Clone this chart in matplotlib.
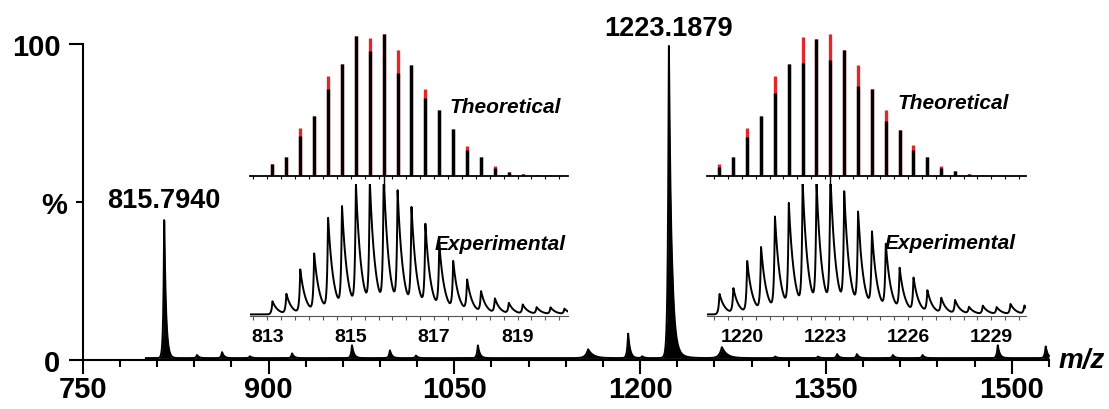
import numpy as np
import matplotlib.pyplot as plt

plt.rcParams['font.family'] = ['Liberation Sans', 'DejaVu Sans']
plt.rcParams['font.weight'] = 'bold'

W, H = 1109, 410

# ---- main spectrum: peak list (m/z, relative intensity %, left / right width in m/z)
main_mz = [815.79, 842.3, 862.5, 885.0, 919.0, 967.4, 998.0, 1019.0, 1069.0, 1158.0,
           1190.3, 1201.6, 1223.19, 1226.0, 1266.0, 1309.0, 1343.6, 1359.0, 1375.0,
           1404.0, 1428.0, 1488.7, 1527.4]
main_int = [45.3, 1.0, 1.9, 0.6, 1.5, 4.1, 2.5, 0.8, 4.1, 2.8,
            7.9, 0.6, 100.0, 4.0, 3.5, 0.5, 0.5, 1.3, 1.3,
            1.0, 1.0, 4.1, 3.8]
main_wl = [0.7, 0.8, 0.8, 0.8, 0.8, 0.8, 0.8, 0.8, 0.8, 2.0,
           0.8, 0.8, 0.8, 2.0, 2.0, 0.8, 0.8, 0.8, 0.8,
           0.8, 0.8, 0.8, 0.8]
main_wr = [1.4, 1.6, 1.6, 1.6, 1.6, 1.6, 1.6, 1.6, 1.6, 4.0,
           1.6, 1.6, 2.0, 5.0, 4.0, 1.6, 1.6, 1.6, 1.6,
           1.6, 1.6, 1.6, 1.6]
main_labels = ['815.7940', '1223.1879']
label_mz = [815.79, 1223.19]
label_y = [48.4, 102.8]

# ---- isotope pattern [M+3H]3+ (spacing 1/3) and [M+2H]2+ (spacing 1/2)
left_apex, left_step = 815.79, 1 / 3
right_apex, right_step = 1223.19, 0.5
apex_index = 8

left_theo_red = [8.5, 13.7, 33.8, 42.6, 70.4, 79.2, 98.3, 96.9, 100, 88.7, 78.0,
                 61.5, 46.3, 33.1, 21.3, 13.2, 7.3, 3.1, 1.4, 0.5, 0.5, 0.2]
left_theo_black = [8.5, 13.7, 27.9, 42.6, 61.0, 79.2, 98.3, 88.2, 100, 72.8, 78.0,
                   55.1, 46.3, 33.1, 18.4, 13.2, 5.4, 3.1, 1.4, 0.5, 0.5, 0.2]
left_exp = [10, 15, 33, 44, 71, 78, 94, 95, 100, 87, 75,
            63, 49, 37, 24, 16, 11, 8, 7, 5, 5, 4]

right_theo_red = [8.5, 13.2, 33.8, 42.6, 70.4, 78.7, 97.6, 96.5, 100, 88.7, 78.0,
                  61.5, 46.8, 32.6, 22.0, 13.2, 7.3, 3.5, 1.4, 0.5, 0.2, 0.2]
right_theo_black = [6.6, 13.2, 27.4, 42.6, 58.6, 78.7, 79.9, 96.5, 81.8, 88.7, 63.4,
                    61.5, 38.5, 32.6, 18.4, 13.2, 5.4, 3.5, 1.4, 0.5, 0.2, 0.2]
right_exp = [15.7, 19.0, 39.2, 48.6, 71.4, 79.7, 94.9, 93.7, 100, 86.1, 71.4,
             58.2, 49.4, 31.6, 25.8, 16.5, 11.4, 10.1, 5.1, 6.3, 5.1, 7.6, 6.3]

left_ticks = [813, 815, 817, 819]
right_ticks = [1220, 1223, 1226, 1229]


def px_box(x0, y0, x1, y1):
    return [x0 / W, 1 - y1 / H, (x1 - x0) / W, (y1 - y0) / H]


def profile(grid, centers, heights, wl, wr):
    y = np.zeros_like(grid)
    for c, h, a, b in zip(centers, heights, wl, wr):
        d = grid - c
        y += h * np.where(d < 0, np.exp(np.clip(d / a, -60, 0)),
                          np.exp(-np.clip(d / b, 0, 60)))
    return y


fig = plt.figure(figsize=(W / 100, H / 100), dpi=100)

# ================= main axes =================
ax = fig.add_axes(px_box(82.7, 45, 1048.9, 361))
grid = np.linspace(801, 1530, 8000)
spec = 0.6 + profile(grid, main_mz, main_int, main_wl, main_wr)
ax.fill_between(grid, 0.5, spec, color='black', lw=0, clip_on=False)
ax.plot(grid, spec, color='black', lw=1.4, clip_on=False)

ax.set_xlim(750, 1530)
ax.set_ylim(0, 100)
for s in ['top', 'right']:
    ax.spines[s].set_visible(False)
for s in ['left', 'bottom']:
    ax.spines[s].set_linewidth(1.5)

ax.set_xticks(np.arange(750, 1501, 150))
ax.set_xticks(np.arange(750, 1531, 30), minor=True)
ax.set_yticks([0, 100], labels=['0', '100'])
ax.set_yticks([50], labels=['%'], minor=True)
ax.tick_params(axis='both', which='both', width=1.5, labelsize=21)
ax.tick_params(axis='x', which='major', length=10, pad=1)
ax.tick_params(axis='x', which='minor', length=5)
ax.tick_params(axis='y', which='major', length=10, pad=6)
ax.tick_params(axis='y', which='minor', length=5, pad=6)

for txt, x, y in zip(main_labels, label_mz, label_y):
    ax.text(x, y, txt, ha='center', va='baseline', fontsize=19.5, fontweight='bold')
ax.text(1.01, 0, 'm/z', transform=ax.transAxes, ha='left', va='center',
        fontsize=20, fontweight='bold', style='italic')


# ================= insets =================
def theo_axes(box, xlim, apex, step, red, black, minor_step):
    a = fig.add_axes(box, facecolor='none')
    pos = [apex + (i - apex_index) * step for i in range(len(red))]
    a.vlines(pos, 0, red, color='#e3262b', lw=2.4)
    a.vlines(pos, 0, black, color='black', lw=2.4)
    a.set_xlim(*xlim)
    a.set_ylim(0, 100)
    for s in ['top', 'right', 'left']:
        a.spines[s].set_visible(False)
    a.spines['bottom'].set_linewidth(1.3)
    a.set_yticks([])
    a.set_xticks([apex], labels=[''])
    first = np.ceil(xlim[0] / minor_step) * minor_step
    a.set_xticks(np.arange(first, xlim[1], minor_step), minor=True)
    a.tick_params(axis='x', which='major', length=8, width=1)
    a.tick_params(axis='x', which='minor', length=2.5, width=0.8)
    return a


def exp_axes(box, xlim, apex, step, heights, ticks, minor_step):
    a = fig.add_axes(box, facecolor='none')
    pos = [apex + (i - apex_index) * step for i in range(len(heights))]
    g = np.linspace(xlim[0], xlim[1], 3000)
    wl = [0.07 * step] * len(heights)
    wr = [0.38 * step] * len(heights)
    a.plot(g, 1.2 + profile(g, pos, heights, wl, wr), color='black', lw=1.4)
    a.set_xlim(*xlim)
    a.set_ylim(0, 100)
    for s in ['top', 'right', 'left']:
        a.spines[s].set_visible(False)
    a.spines['bottom'].set_linewidth(0.8)
    a.spines['bottom'].set_color('#555555')
    a.set_yticks([])
    a.set_xticks(ticks, labels=[str(t) for t in ticks])
    first = np.ceil(xlim[0] / minor_step) * minor_step
    a.set_xticks(np.arange(first, xlim[1], minor_step), minor=True)
    a.tick_params(axis='x', which='both', length=3, width=0.8, color='#555555',
                  labelsize=14, pad=6)
    return a


left_xlim = (812.585, 820.21)
right_xlim = (1218.74, 1230.25)
theo_axes(px_box(250, 35, 568, 177), left_xlim, left_apex, left_step,
          left_theo_red, left_theo_black, 1 / 3)
exp_axes(px_box(250, 185, 568, 317), left_xlim, left_apex, left_step,
         left_exp, left_ticks, 1 / 3)
theo_axes(px_box(707, 35, 1026, 177), right_xlim, right_apex, right_step,
          right_theo_red, right_theo_black, 0.5)
exp_axes(px_box(707, 185, 1026, 317), right_xlim, right_apex, right_step,
         right_exp, right_ticks, 0.5)

for txt, x, y in [('Theoretical', 450, 113), ('Experimental', 435, 250),
                  ('Theoretical', 898, 109), ('Experimental', 885, 249)]:
    fig.text(x / W, 1 - y / H, txt, ha='left', va='baseline', fontsize=15,
             fontweight='bold', style='italic')

fig.savefig('out.png', dpi=100)
